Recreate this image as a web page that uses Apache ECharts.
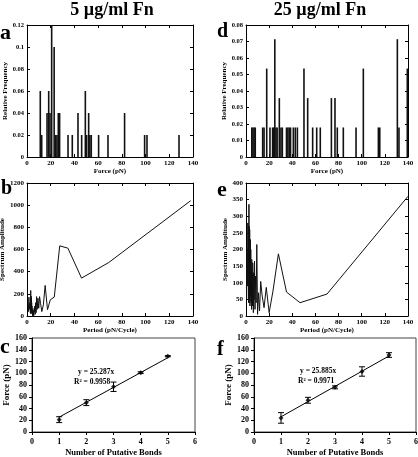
<!DOCTYPE html>
<html><head><meta charset="utf-8">
<script src="https://cdn.jsdelivr.net/npm/echarts@6/dist/echarts.min.js"></script>
<style>html,body{margin:0;padding:0;background:#fff}#c{width:418px;height:457px}</style>
</head><body><div id="c"></div>
<script>
// ---- Panel a: histogram, 5 ug/ml Fn ----
const histA_force = [11.2, 12.4, 16.9, 18.3, 19.4, 20.8, 22.9, 24.2, 25.3, 26.4, 27.5, 34.6, 38.2, 43.0, 46.1, 49.2, 50.3, 52.0, 53.0, 54.2, 60.4, 68.3, 82.3, 99.2, 101.2, 128.2];
const histA_freq  = [0.06, 0.02, 0.04, 0.06, 0.04, 0.12, 0.10, 0.02, 0.02, 0.04, 0.04, 0.02, 0.02, 0.04, 0.02, 0.06, 0.02, 0.04, 0.02, 0.02, 0.02, 0.02, 0.04, 0.02, 0.02, 0.02];
// ---- Panel d: histogram, 25 ug/ml Fn ----
const histD_force = [5.0, 6.0, 7.0, 8.0, 14.4, 15.6, 17.9, 20.7, 23.0, 24.0, 24.9, 25.9, 26.9, 28.8, 30.2, 31.4, 35.0, 36.2, 37.4, 38.5, 40.9, 42.6, 44.4, 50.1, 53.3, 57.6, 61.1, 64.2, 73.8, 76.9, 78.9, 84.1, 95.1, 101.4, 114.4, 115.6, 130.8, 132.2, 139.4];
const histD_freq  = [0.0179, 0.0179, 0.0179, 0.0179, 0.0179, 0.0179, 0.0536, 0.0179, 0.0179, 0.0179, 0.0714, 0.0179, 0.0179, 0.0357, 0.0179, 0.0179, 0.0179, 0.0179, 0.0179, 0.0179, 0.0179, 0.0179, 0.0179, 0.0536, 0.0357, 0.0179, 0.0179, 0.0179, 0.0357, 0.0357, 0.0179, 0.0179, 0.0179, 0.0536, 0.0179, 0.0179, 0.0714, 0.0179, 0.0536];
// ---- Panel b: spectrum, 5 ug/ml ----
const specB_period = [138, 69, 46, 34.5, 27.6, 23, 19.7, 17.3, 15.3, 13.8, 12.5, 11.5, 10.6, 9.9, 9.2, 8.6, 8.1, 7.7, 7.3, 6.9, 6.6, 6.3, 6.0, 5.75, 5.5, 5.3, 5.1, 4.9, 4.76, 4.6, 4.45, 4.3, 4.2, 4.06, 3.94, 3.83, 3.73, 3.63, 3.54, 3.45, 3.37, 3.29, 3.21, 3.14, 3.07, 3.0, 2.94, 2.88, 2.82, 2.76, 2.5, 2.0, 1.6, 1.2, 0.9];
const specB_amp    = [1040, 483, 342, 612, 633, 171, 147, 57, 276, 100, 40, 110, 175, 70, 160, 60, 175, 30, 120, 15, 90, 40, 70, 5, 50, 0, 30, 0, 40, 10, 60, 20, 90, 30, 120, 50, 160, 40, 100, 180, 60, 140, 20, 230, 80, 130, 40, 90, 30, 60, 120, 60, 170, 40, 110];
// ---- Panel e: spectrum, 25 ug/ml ----
const specE_period = [140, 70, 46.7, 35, 28, 23.3, 20, 17.5, 15.6, 14, 12.7, 11.7, 10.8, 10, 9.33, 8.75, 8.24, 7.78, 7.37, 7.0, 6.67, 6.36, 6.09, 5.83, 5.6, 5.38, 5.19, 5.0, 4.83, 4.67, 4.52, 4.38, 4.24, 4.12, 4.0, 3.89, 3.78, 3.68, 3.59, 3.5, 3.41, 3.33, 3.26, 3.18, 3.11, 3.04, 2.98, 2.92, 2.86, 2.8, 2.75, 2.69, 2.64, 2.59, 2.55, 2.5, 2.46, 2.41, 2.37, 2.33, 2.0, 1.6, 1.2, 0.8, 0.6];
const specE_amp    = [360, 66, 40, 72, 187, 75, 10, 86, 25, 60, 104, 15, 70, 5, 215, 40, 120, 20, 165, 50, 130, 10, 100, 160, 30, 125, 60, 170, 20, 90, 140, 40, 110, 200, 60, 150, 230, 80, 120, 175, 30, 140, 90, 260, 50, 180, 120, 60, 200, 100, 150, 40, 270, 90, 336, 60, 180, 120, 230, 40, 150, 280, 90, 200, 50];
// ---- Panel c: force vs bonds, 5 ug/ml ----
const bondsC = [1, 2, 3, 4, 5];
const forceC = [21, 50, 77, 101, 129];
const errC   = [5, 5, 8, 1.5, 1];
const trendC = [[1, 25.3], [5, 126.4]];
// ---- Panel f: force vs bonds, 25 ug/ml ----
const bondsF = [1, 2, 3, 4, 5];
const forceF = [24, 54, 76, 103, 131];
const errF   = [9, 5, 2.5, 8, 4];
const trendF = [[1, 25.9], [5, 129.4]];

const FONT = 'Liberation Serif';
const tickFont = {fontSize: 7, fontWeight: 'bold', fontFamily: FONT, color: '#000'};
const nameFont = {fontSize: 7, fontWeight: 'bold', fontFamily: FONT, color: '#000'};

const grids = [
  {left: 27, top: 25, width: 166, height: 132},   // a
  {left: 246, top: 25, width: 162, height: 132},  // d
  {left: 27, top: 183, width: 166, height: 133},  // b
  {left: 246, top: 183, width: 162, height: 133}, // e
  {left: 32, top: 338, width: 163, height: 94, show: true, borderColor: '#444', borderWidth: 1}, // c
  {left: 254, top: 338, width: 162, height: 94, show: true, borderColor: '#444', borderWidth: 1}  // f
].map(g => Object.assign({outerBoundsMode: 'none', containLabel: false}, g));

const xAxes = [], yAxes = [];
function matlabAxes(gi, xr, yr, xname, yname, xGap, yGap, yFont, yFmt) {
  const line = {show: true, onZero: false, lineStyle: {color: '#000', width: 1}};
  const tick = {show: true, inside: true, length: 3, lineStyle: {color: '#000'}};
  const xi = xAxes.length, yi = yAxes.length;
  xAxes.push({gridIndex: gi, type: 'value', min: xr[0], max: xr[1], interval: xr[2], position: 'bottom',
    axisLine: line, axisTick: tick, splitLine: {show: false},
    axisLabel: Object.assign({margin: 3}, tickFont),
    name: xname, nameLocation: 'middle', nameGap: xGap, nameTextStyle: nameFont});
  xAxes.push({gridIndex: gi, type: 'value', min: xr[0], max: xr[1], interval: xr[2], position: 'top',
    axisLine: line, axisTick: tick, splitLine: {show: false}, axisLabel: {show: false}});
  const yLab = Object.assign({margin: 3}, tickFont, {fontSize: yFont || 7});
  if (yFmt) yLab.formatter = yFmt;
  yAxes.push({gridIndex: gi, type: 'value', min: yr[0], max: yr[1], interval: yr[2], position: 'left',
    axisLine: line, axisTick: tick, splitLine: {show: false},
    axisLabel: yLab,
    name: yname, nameLocation: 'middle', nameGap: yGap, nameTextStyle: nameFont});
  yAxes.push({gridIndex: gi, type: 'value', min: yr[0], max: yr[1], interval: yr[2], position: 'right',
    axisLine: line, axisTick: tick, splitLine: {show: false}, axisLabel: {show: false}});
  return [xi, yi];
}
function excelAxes(gi, xr, yr, xname, yname) {
  const line = {show: true, onZero: false, lineStyle: {color: '#000', width: 1}};
  const tick = {show: true, inside: false, length: 3, lineStyle: {color: '#000'}};
  const f = {fontSize: 8, fontWeight: 'bold', fontFamily: FONT, color: '#000'};
  const xi = xAxes.length, yi = yAxes.length;
  xAxes.push({gridIndex: gi, type: 'value', min: xr[0], max: xr[1], interval: xr[2], position: 'bottom',
    axisLine: line, axisTick: tick, splitLine: {show: false}, axisLabel: Object.assign({margin: 6}, f),
    name: xname, nameLocation: 'middle', nameGap: 16, nameTextStyle: Object.assign({}, f, {fontSize: 8.5})});
  yAxes.push({gridIndex: gi, type: 'value', min: yr[0], max: yr[1], interval: yr[2], position: 'left',
    axisLine: line, axisTick: tick, splitLine: {show: false}, axisLabel: Object.assign({margin: 5}, f),
    name: yname, nameLocation: 'middle', nameGap: 15, nameTextStyle: Object.assign({}, f, {fontSize: 9})});
  return [xi, yi];
}

const intFmt = v => String(Math.round(v));
const [ax, ay] = matlabAxes(0, [0, 140, 20], [0, 0.12, 0.02], 'Force (pN)', 'Relative Frequency', 8, 14, 6.5);
const [dx, dy] = matlabAxes(1, [0, 140, 20], [0, 0.08, 0.01], 'Force (pN)', 'Relative Frequency', 8, 15, 6.5);
const [bx, by] = matlabAxes(2, [0, 140, 20], [0, 1200, 200], 'Period (pN/Cycle)', 'Spectrum Amplitude', 9, 13, 7, intFmt);
const [ex, ey] = matlabAxes(3, [0, 140, 20], [0, 400, 50], 'Period (pN/Cycle)', 'Spectrum Amplitude', 9, 14, 7, intFmt);
const [cx, cy] = excelAxes(4, [0, 6, 1], [0, 160, 20], 'Number of Putative Bonds', 'Force (pN)');
const [fx, fy] = excelAxes(5, [0, 6, 1], [0, 160, 20], 'Number of Putative Bonds', 'Force (pN)');

function zip(a, b) { return a.map((v, i) => [v, b[i]]); }
function zip3(a, b, c) { return a.map((v, i) => [v, b[i], c[i]]); }

function errRender(params, api) {
  const x = api.value(0), y = api.value(1), e = api.value(2);
  const t = api.coord([x, y + e]), b = api.coord([x, y - e]);
  const w = 3, st = {stroke: '#000', lineWidth: 1};
  return {type: 'group', children: [
    {type: 'line', shape: {x1: t[0], y1: t[1], x2: b[0], y2: b[1]}, style: st},
    {type: 'line', shape: {x1: t[0] - w, y1: t[1], x2: t[0] + w, y2: t[1]}, style: st},
    {type: 'line', shape: {x1: b[0] - w, y1: b[1], x2: b[0] + w, y2: b[1]}, style: st}
  ]};
}

const series = [
  {type: 'bar', xAxisIndex: ax, yAxisIndex: ay, data: zip(histA_force, histA_freq), barWidth: 1.6,
   itemStyle: {color: '#111'}, silent: true},
  {type: 'bar', xAxisIndex: dx, yAxisIndex: dy, data: zip(histD_force, histD_freq), barWidth: 1.6,
   itemStyle: {color: '#111'}, silent: true},
  {type: 'line', xAxisIndex: bx, yAxisIndex: by, data: zip(specB_period, specB_amp), showSymbol: false,
   lineStyle: {color: '#111', width: 1}, silent: true},
  {type: 'line', xAxisIndex: ex, yAxisIndex: ey, data: zip(specE_period, specE_amp), showSymbol: false,
   lineStyle: {color: '#111', width: 1}, silent: true},
  {type: 'line', xAxisIndex: cx, yAxisIndex: cy, data: trendC, showSymbol: false, lineStyle: {color: '#000', width: 1}},
  {type: 'custom', xAxisIndex: cx, yAxisIndex: cy, data: zip3(bondsC, forceC, errC), renderItem: errRender},
  {type: 'scatter', xAxisIndex: cx, yAxisIndex: cy, data: zip(bondsC, forceC), symbol: 'diamond', symbolSize: 5, itemStyle: {color: '#000'}},
  {type: 'line', xAxisIndex: fx, yAxisIndex: fy, data: trendF, showSymbol: false, lineStyle: {color: '#000', width: 1}},
  {type: 'custom', xAxisIndex: fx, yAxisIndex: fy, data: zip3(bondsF, forceF, errF), renderItem: errRender},
  {type: 'scatter', xAxisIndex: fx, yAxisIndex: fy, data: zip(bondsF, forceF), symbol: 'diamond', symbolSize: 5, itemStyle: {color: '#000'}}
];

function txt(x, y, text, size, align) {
  return {type: 'text', x: x, y: y, style: {text: text, fontSize: size, fontWeight: 'bold', fontFamily: FONT,
    fill: '#000', align: align || 'left', verticalAlign: 'middle'}};
}
const graphics = [
  txt(112, 10, '5 µg/ml Fn', 18, 'center'),
  txt(320, 10, '25 µg/ml Fn', 18, 'center'),
  txt(0, 33, 'a', 22), txt(217, 32, 'd', 20),
  txt(1, 189, 'b', 20), txt(217, 190, 'e', 22),
  txt(0, 347, 'c', 22), txt(217, 350, 'f', 20),
  txt(78, 372, 'y = 25.287x', 7.5), txt(74, 382, 'R² = 0.9958', 7.5),
  txt(300, 371, 'y = 25.885x', 7.5), txt(298, 381, 'R² = 0.9971', 7.5)
];

const chart = echarts.init(document.getElementById('c'), null, {renderer: 'canvas'});
chart.setOption({
  animation: false,
  backgroundColor: '#fff',
  grid: grids,
  xAxis: xAxes,
  yAxis: yAxes,
  series: series,
  graphic: graphics
});
</script>
</body></html>
